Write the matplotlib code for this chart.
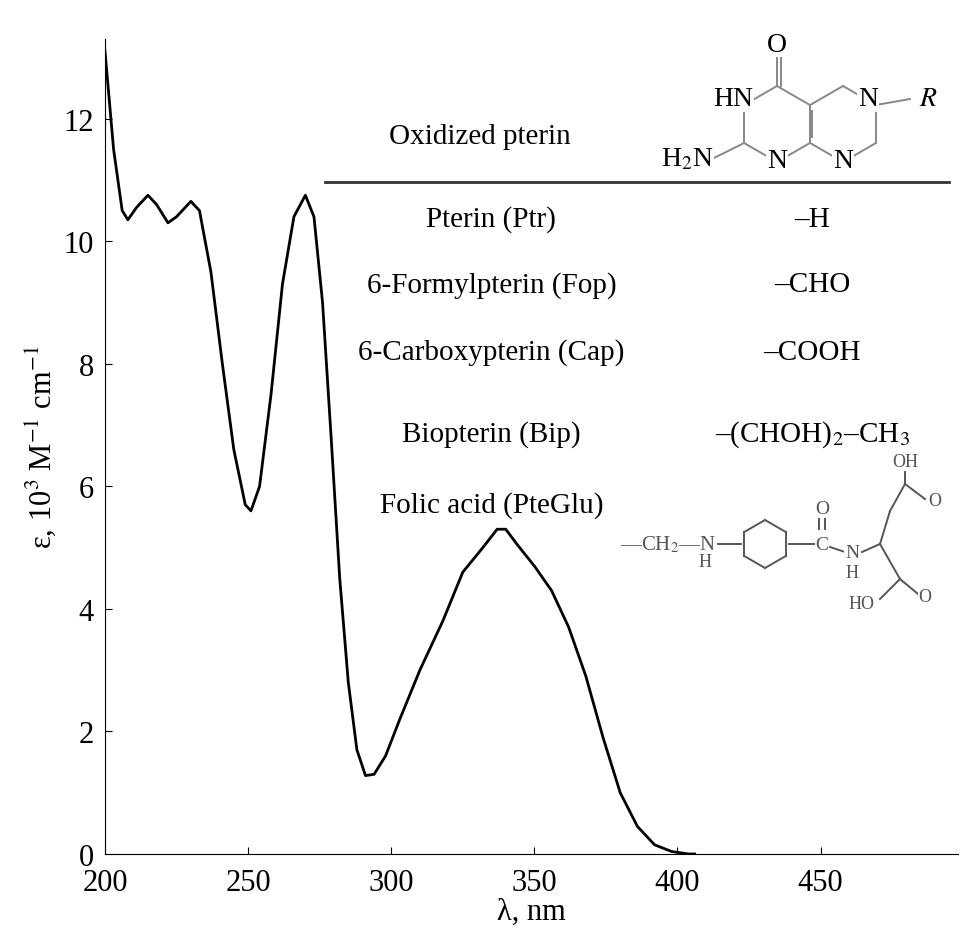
import numpy as np
import matplotlib
matplotlib.use("Agg")
import matplotlib.pyplot as plt

wavelength = [200, 203, 206, 208, 211, 215, 218, 222, 225, 230, 233, 237, 241, 245, 249, 251, 254, 258, 262, 266, 270,
              273, 276, 279, 282, 285, 288, 291, 294, 298, 303, 310, 318, 325, 332, 337, 340, 344, 350, 356, 362, 368,
              374, 380, 386, 392, 398, 404, 406]
epsilon = [13.1, 11.5, 10.5, 10.35, 10.55, 10.75, 10.6, 10.3, 10.4, 10.65, 10.5, 9.5, 8.0, 6.6, 5.7, 5.6, 6.0, 7.5, 9.3,
           10.4, 10.75, 10.4, 9.0, 6.8, 4.5, 2.8, 1.7, 1.28, 1.3, 1.6, 2.2, 3.0, 3.8, 4.6, 5.0, 5.3, 5.3, 5.05, 4.7,
           4.3, 3.7, 2.9, 1.9, 1.0, 0.45, 0.15, 0.04, 0.0, 0.0]
names = ["Pterin (Ptr)", "6-Formylpterin (Fop)", "6-Carboxypterin (Cap)", "Biopterin (Bip)", "Folic acid (PteGlu)"]
groups = ["–H", "–CHO", "–COOH", "–(CHOH)$_2$–CH$_3$", ""]

plt.rcParams['font.family'] = ['Liberation Serif', 'DejaVu Serif']
plt.rcParams['mathtext.fontset'] = 'stix'
W, H = 961, 953
fig = plt.figure(figsize=(W/100, H/100), dpi=100)
ax = fig.add_axes([105/W, 98/H, 853/W, 815/H])
ax.plot(wavelength, epsilon, color='black', lw=2, solid_joinstyle='round')
ax.set_xlim(200, 498)
ax.set_ylim(0, 13.3)
ax.set_xticks([200, 250, 300, 350, 400, 450])
ax.set_yticks([0, 2, 4, 6, 8, 10, 12])
ax.tick_params(labelsize=22, direction='in', length=5)
ax.tick_params(axis='x', pad=10)
ax.tick_params(axis='y', pad=8)
for s in ['top', 'right']:
    ax.spines[s].set_visible(False)
ax.set_xlabel("λ, nm", fontsize=22, labelpad=0)
ax.set_ylabel("ε, 10$^3$ M$^{-1}$ cm$^{-1}$", fontsize=22)

def px(x, y):
    return x / W, 1 - y / H

# table
ax.plot([277, 495], [10.97, 10.97], color='#333333', lw=2, clip_on=False)
ax.text(331, 11.72, "Oxidized pterin", fontsize=21, ha='center', va='center')
rows_y = [10.37, 9.3, 8.2, 6.86, 5.71]
for n, g, yy in zip(names, groups, rows_y):
    ax.text(335, yy, n, fontsize=21, ha='center', va='center')
    if g:
        ax.text(447, yy, g, fontsize=21, ha='center', va='center')

def line(p, q, c='#888888', lw=1.4):
    a, b = px(*p), px(*q)
    fig.add_artist(plt.Line2D([a[0], b[0]], [a[1], b[1]], color=c, lw=lw))

def label(x, y, s, size=20, c='black', **kw):
    fig.text(*px(x, y), s, fontsize=size, color=c, ha='center', va='center',
             bbox=dict(fc='white', ec='none', pad=0.5), zorder=5, **kw)

def hexagon(cx, cy, r, c='#888888'):
    pts = [(cx + r*np.cos(np.radians(a)), cy - r*np.sin(np.radians(a))) for a in [90, 150, 210, 270, 330, 30]]
    for i in range(6):
        line(pts[i], pts[(i+1) % 6], c=c)
    return pts

L = hexagon(777, 125, 38)
R = hexagon(843, 125, 38)
line(L[0], (777, 58)); line((781, 87), (781, 58))
line(L[2], (712, 160))
line(R[5], (910, 100))
line((812, 112), (812, 138))
label(777, 45, "O")
label(733, 100, "HN")
label(687, 160, "H$_2$N")
label(777, 162, "N")
label(843, 162, "N")
label(868, 100, "N")
label(928, 100, "$R$")

g = '#555555'
label(668, 545, "—CH$_2$—N", size=15, c=g)
label(705, 563, "H", size=13, c=g)
B = hexagon(765, 545, 24, c=g)
line((718, 545), (741, 545), c=g)
line((789, 545), (820, 545), c=g)
label(822, 545, "C", size=14, c=g)
label(822, 510, "O", size=14, c=g)
line((819, 530), (819, 518), c=g); line((825, 530), (825, 518), c=g)
label(852, 553, "N", size=14, c=g)
label(852, 573, "H", size=13, c=g)
line((830, 548), (845, 553), c=g)
line((862, 553), (880, 545), c=g)
line((880, 545), (890, 512), c=g); line((890, 512), (905, 485), c=g)
line((905, 485), (905, 470), c=g); line((905, 485), (925, 500), c=g)
label(905, 463, "OH", size=13, c=g); label(935, 502, "O", size=13, c=g)
line((880, 545), (900, 580), c=g); line((900, 580), (880, 600), c=g); line((900, 580), (918, 595), c=g)
label(862, 605, "HO", size=13, c=g); label(925, 598, "O", size=13, c=g)

fig.savefig("out.png", dpi=100)
